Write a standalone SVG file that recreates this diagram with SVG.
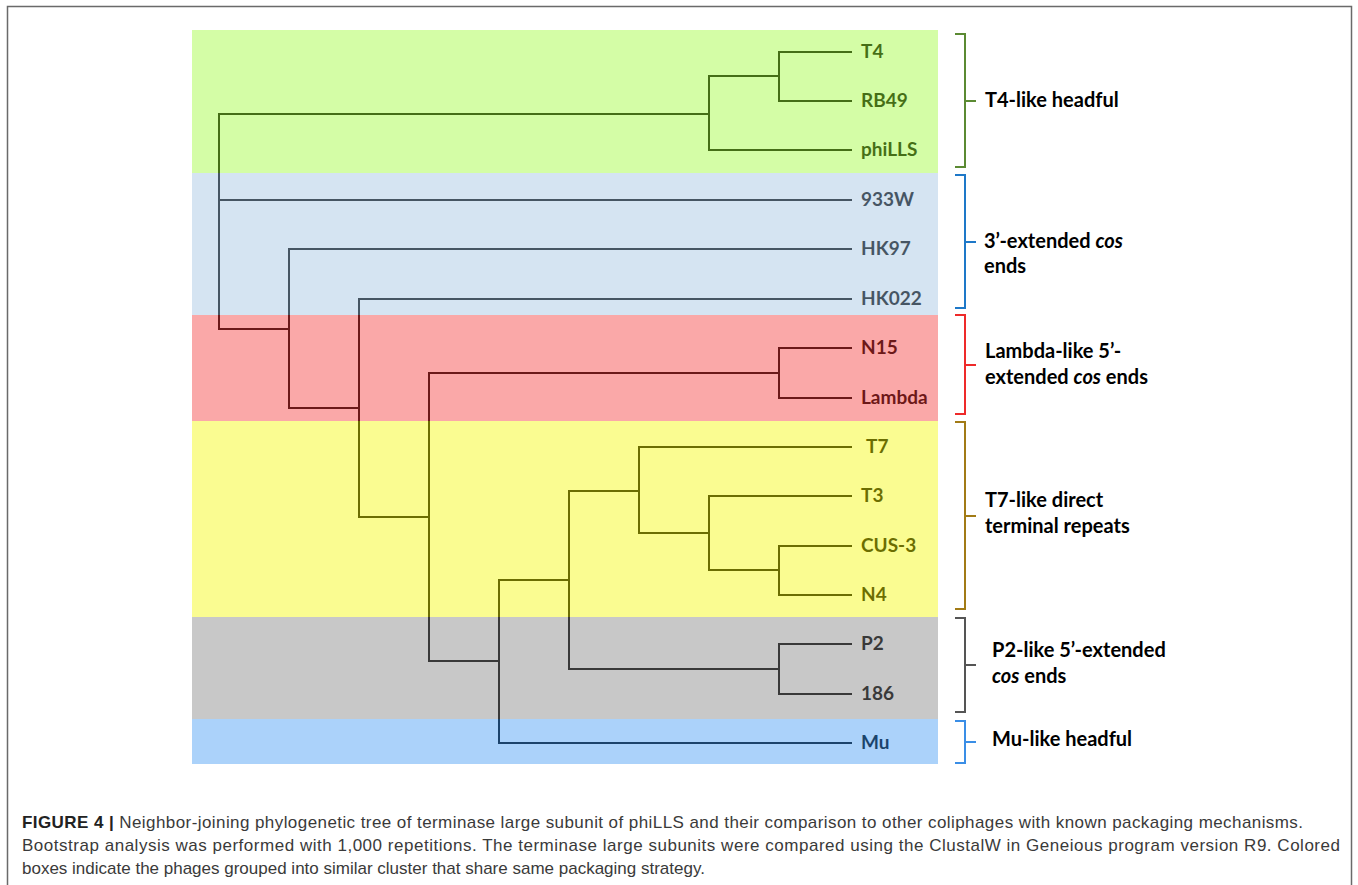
<svg xmlns="http://www.w3.org/2000/svg" width="1358" height="885" viewBox="0 0 1358 885">
<defs>
<style>
.ln{stroke:#000;stroke-width:2;fill:none;stroke-linecap:square}
.leaf{font-family:Lato,"Open Sans",sans-serif;font-weight:700;font-size:19px;fill:#000}
.grp{font-family:Lato,"Open Sans",sans-serif;font-weight:700;font-size:20px;fill:#000}
.br{fill:none;stroke-width:2}
.ov{fill-opacity:0.44}
.cap{font-family:"Liberation Sans",Arial,sans-serif;font-size:17px;fill:#3a3a3a}
</style>
</defs>
<rect x="0" y="0" width="1358" height="885" fill="#fff"/>
<rect x="7.5" y="6.5" width="1344" height="900" fill="none" stroke="#6a6a6a" stroke-width="1.5"/>

<g id="connectors">
<!-- root (trifurcation) -->
<path class="ln" d="M219,114 V329 M219,114 H709 M219,200 H851 M219,329 H289"/>
<!-- T4 clade -->
<path class="ln" d="M709,76 V150 M709,76 H779 M709,150 H851"/>
<path class="ln" d="M779,52 V101 M779,52 H851 M779,101 H851"/>
<!-- C -->
<path class="ln" d="M289,249 V408 M289,249 H851 M289,408 H359"/>
<!-- D -->
<path class="ln" d="M359,299 V517 M359,299 H851 M359,517 H429"/>
<!-- E -->
<path class="ln" d="M429,373 V661 M429,373 H779 M429,661 H499"/>
<!-- N15/Lambda -->
<path class="ln" d="M779,348 V398 M779,348 H851 M779,398 H851"/>
<!-- G -->
<path class="ln" d="M499,580 V743 M499,580 H569 M499,743 H851"/>
<!-- H -->
<path class="ln" d="M569,491 V669 M569,491 H639 M569,669 H779"/>
<!-- I -->
<path class="ln" d="M639,447 V533 M639,447 H851 M639,533 H709"/>
<!-- J -->
<path class="ln" d="M709,496 V570 M709,496 H851 M709,570 H779"/>
<!-- K -->
<path class="ln" d="M779,546 V595 M779,546 H851 M779,595 H851"/>
<!-- L -->
<path class="ln" d="M779,644 V694 M779,644 H851 M779,694 H851"/>
</g>

<g id="leaf-T4"><text class="leaf" x="861" y="58">T4</text></g>
<g id="leaf-RB49"><text class="leaf" x="861" y="107">RB49</text></g>
<g id="leaf-phiLLS"><text class="leaf" x="861" y="156">phiLLS</text></g>
<g id="leaf-933W"><text class="leaf" x="861" y="206">933W</text></g>
<g id="leaf-HK97"><text class="leaf" x="861" y="255">HK97</text></g>
<g id="leaf-HK022"><text class="leaf" x="861" y="305">HK022</text></g>
<g id="leaf-N15"><text class="leaf" x="861" y="354">N15</text></g>
<g id="leaf-Lambda"><text class="leaf" x="861" y="404">Lambda</text></g>
<g id="leaf-T7"><text class="leaf" x="866" y="453">T7</text></g>
<g id="leaf-T3"><text class="leaf" x="861" y="502">T3</text></g>
<g id="leaf-CUS-3"><text class="leaf" x="861" y="552">CUS-3</text></g>
<g id="leaf-N4"><text class="leaf" x="861" y="601">N4</text></g>
<g id="leaf-P2"><text class="leaf" x="861" y="650">P2</text></g>
<g id="leaf-186"><text class="leaf" x="861" y="700">186</text></g>
<g id="leaf-Mu"><text class="leaf" x="861" y="749">Mu</text></g>

<g id="cluster-boxes">
<rect class="ov" x="192" y="30" width="746" height="143" fill="#9dfa34"/>
<rect class="ov" x="192" y="173" width="746" height="142" fill="#9fc1e1"/>
<rect class="ov" x="192" y="315" width="746" height="106" fill="#f33939"/>
<rect class="ov" x="192" y="421" width="746" height="196" fill="#f3f805"/>
<rect class="ov" x="192" y="617" width="746" height="102" fill="#828282"/>
<rect class="ov" x="192" y="719" width="746" height="45" fill="#4098f3"/>
</g>

<g id="group-T4">
<path class="br" stroke="#5b8a33" d="M955,34 H965 V167 H955 M965,101 H976"/>
<text class="grp" x="985" y="107">T4-like headful</text>
</g>
<g id="group-3ext">
<path class="br" stroke="#1e78c8" d="M955,175 H965 V308 H955 M965,242 H976"/>
<text class="grp" x="984" y="248">3’-extended <tspan font-style="italic">cos</tspan></text>
<text class="grp" x="984" y="273">ends</text>
</g>
<g id="group-lambda">
<path class="br" stroke="#ee2a2a" d="M955,315 H965 V414 H955 M965,365 H976"/>
<text class="grp" x="985" y="358">Lambda-like 5’-</text>
<text class="grp" x="985" y="384">extended <tspan font-style="italic">cos</tspan> ends</text>
</g>
<g id="group-T7">
<path class="br" stroke="#a27b16" d="M955,422 H965 V609 H955 M965,516 H976"/>
<text class="grp" x="985" y="507">T7-like direct</text>
<text class="grp" x="985" y="533">terminal repeats</text>
</g>
<g id="group-P2">
<path class="br" stroke="#555555" d="M955,618 H965 V712 H955 M965,665 H976"/>
<text class="grp" x="992" y="657">P2-like 5’-extended</text>
<text class="grp" x="992" y="683"><tspan font-style="italic">cos</tspan> ends</text>
</g>
<g id="group-Mu">
<path class="br" stroke="#3a8ee6" d="M955,721 H965 V763 H955 M965,742 H976"/>
<text class="grp" x="992" y="746">Mu-like headful</text>
</g>

<g id="caption">
<text class="cap" x="22" y="828" textLength="1281" lengthAdjust="spacing"><tspan font-weight="700" fill="#222">FIGURE 4 |</tspan> Neighbor-joining phylogenetic tree of terminase large subunit of phiLLS and their comparison to other coliphages with known packaging mechanisms.</text>
<text class="cap" x="22" y="851" textLength="1318" lengthAdjust="spacing">Bootstrap analysis was performed with 1,000 repetitions. The terminase large subunits were compared using the ClustalW in Geneious program version R9. Colored</text>
<text class="cap" x="22" y="874">boxes indicate the phages grouped into similar cluster that share same packaging strategy.</text>
</g>
</svg>
